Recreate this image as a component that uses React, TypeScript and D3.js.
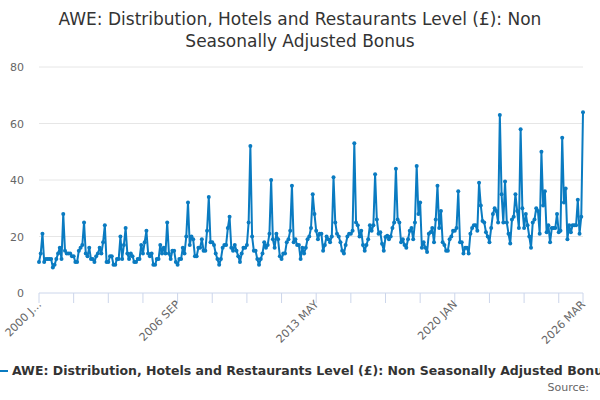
import { useEffect } from 'react'
import * as d3 from 'd3'

const MONTHS = ['JAN', 'FEB', 'MAR', 'APR', 'MAY', 'JUN', 'JUL', 'AUG', 'SEP', 'OCT', 'NOV', 'DEC']
const START_YEAR = 2000

// AWE bonus, £ per week, monthly from 2000 JAN to 2026 MAR
const bonus = [
  11, 14, 21, 11, 12, 12, 12, 12, 9, 10, 12, 14,
  16, 12, 28, 15, 14, 14, 14, 13, 13, 11, 11, 15,
  16, 17, 25, 14, 13, 16, 12, 12, 11, 13, 14, 16,
  14, 18, 24, 11, 11, 13, 13, 10, 10, 12, 12, 20,
  12, 17, 23, 14, 12, 14, 13, 11, 11, 12, 12, 17,
  14, 18, 22, 14, 13, 14, 10, 10, 12, 12, 17, 14,
  16, 14, 25, 14, 12, 15, 15, 11, 10, 12, 12, 16,
  14, 20, 32, 17, 20, 19, 13, 13, 16, 16, 19, 15,
  15, 22, 34, 18, 18, 17, 14, 12, 10, 12, 16, 17,
  17, 23, 27, 16, 15, 17, 15, 13, 11, 14, 16, 16,
  17, 25, 52, 20, 15, 15, 12, 10, 12, 14, 18, 16,
  17, 21, 40, 19, 16, 21, 19, 13, 12, 14, 14, 18,
  19, 22, 38, 18, 19, 17, 17, 12, 16, 14, 16, 19,
  20, 23, 35, 28, 22, 19, 21, 21, 15, 17, 20, 19,
  18, 20, 41, 25, 21, 20, 18, 15, 14, 17, 20, 21,
  21, 22, 53, 25, 24, 20, 22, 17, 15, 17, 19, 24,
  22, 24, 42, 26, 21, 21.5, 17.4, 15, 19.8, 20.3, 19, 20,
  23, 25, 44, 26, 25, 18, 19, 17, 16, 19, 22, 23,
  19, 25, 45, 28, 32, 16, 18, 16, 14.5, 21, 21.5, 23,
  18, 26, 38, 23, 29, 18, 17, 15, 15, 19, 20, 22,
  22, 23, 36, 18, 18, 14, 16, 16, 14, 21, 23, 24,
  24, 22, 39, 31, 25.5, 25, 21.5, 20, 18, 23, 28, 30,
  29, 25, 63, 35, 25, 39.5, 25, 21, 17.5, 26, 27, 35,
  29, 23, 58, 30, 23, 28, 24, 20, 16, 25, 26, 30,
  29, 21, 50, 31, 36, 21.5, 24, 18, 23, 23, 23, 28,
  21.5, 22, 55, 32, 37, 19, 24, 21.5, 24, 24, 24, 33,
  21, 27, 64,
]

const categories = bonus.map((_, i) => `${START_YEAR + Math.floor(i / 12)} ${MONTHS[i % 12]}`)

const yTicks = [0, 20, 40, 60, 80]
const xTickStep = 20
const xLabelIdx = [0, 80, 160, 240, 314]

const title = ['AWE: Distribution, Hotels and Restaurants Level (£): Non', 'Seasonally Adjusted Bonus']
const seriesName = 'AWE: Distribution, Hotels and Restaurants Level (£): Non Seasonally Adjusted Bonus'

const W = 600
const H = 400
const margin = { top: 67, right: 17, bottom: 107, left: 39 }
const color = '#0a7bc1'
const font = '"DejaVu Sans", Verdana, sans-serif'

export default function App() {
  useEffect(() => {
    document.body.style.margin = '0'
  }, [])

  const x = d3
    .scalePoint<string>()
    .domain(categories)
    .range([margin.left, W - margin.right])

  const y = d3
    .scaleLinear()
    .domain([0, 80])
    .range([H - margin.bottom, margin.top])

  const line = d3
    .line<number>()
    .x((_, i) => x(categories[i]) as number)
    .y(d => y(d))

  const tickIdx = d3.range(0, categories.length, xTickStep).concat([categories.length - 1])
  const y0 = y(0)

  const labelText = (i: number) => (i === 0 ? '2000 J…' : categories[i])

  return (
    <svg width={W} height={H} style={{ display: 'block', fontFamily: font }}>
      {title.map((t, i) => (
        <text key={i} x={W / 2} y={25 + i * 22} textAnchor="middle" fontSize={17} fill="#333">
          {t}
        </text>
      ))}

      {/* grid + y labels */}
      {yTicks.map(t => (
        <g key={t}>
          {t > 0 && (
            <line x1={margin.left} x2={W - margin.right} y1={y(t)} y2={y(t)} stroke="#e6e6e6" strokeWidth={1} />
          )}
          <text x={24} y={y(t) + 4} textAnchor="end" fontSize={11} fill="#666">
            {t}
          </text>
        </g>
      ))}

      {/* x axis */}
      <line x1={margin.left} x2={W - margin.right} y1={y0} y2={y0} stroke="#ccd6eb" strokeWidth={1} />
      {tickIdx.map(i => (
        <line key={i} x1={x(categories[i])} x2={x(categories[i])} y1={y0} y2={y0 + 10} stroke="#ccd6eb" strokeWidth={1} />
      ))}
      {xLabelIdx.map(i => {
        const px = (x(categories[i]) as number) + 3
        return (
          <text
            key={i}
            transform={`translate(${px},${y0 + 12}) rotate(-45)`}
            textAnchor="end"
            fontSize={11}
            fill="#666"
          >
            {labelText(i)}
          </text>
        )
      })}

      {/* series */}
      <path d={line(bonus) ?? ''} fill="none" stroke={color} strokeWidth={2} strokeLinejoin="round" />
      {bonus.map((v, i) => (
        <circle key={i} cx={x(categories[i])} cy={y(v)} r={2} fill={color} />
      ))}

      {/* legend */}
      <line x1={0} x2={8} y1={371} y2={371} stroke={color} strokeWidth={2} />
      <text x={12} y={375} fontSize={12.5} fontWeight="bold" fill="#333">
        {seriesName}
      </text>
      <text x={589} y={391} textAnchor="end" fontSize={11} fill="#666">
        Source:
      </text>
    </svg>
  )
}
